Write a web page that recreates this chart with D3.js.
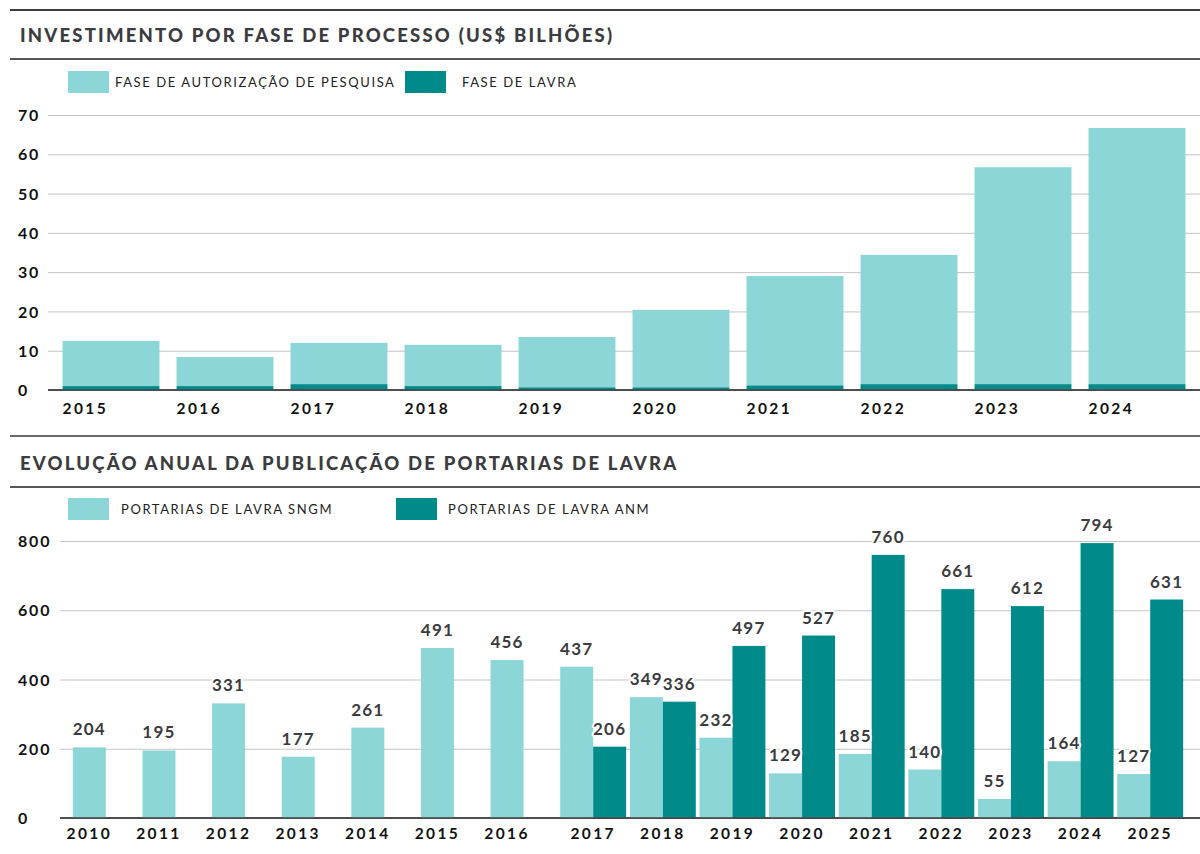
<!DOCTYPE html>
<html lang="pt">
<head>
<meta charset="UTF-8">
<title>Investimento e portarias de lavra</title>
<script src="https://cdn.jsdelivr.net/npm/d3@7"></script>
<style>
  body { margin: 0; background: #fff; }
  text { font-family: Lato, "Open Sans", sans-serif; }
</style>
</head>
<body>
<script>
// --- grafico 1: investimento por fase (US$ bilhoes)
var anosInv = ["2015", "2016", "2017", "2018", "2019", "2020", "2021", "2022", "2023", "2024"];
var lavraInv = [1.0, 1.0, 1.5, 1.0, 0.7, 0.7, 1.2, 1.5, 1.5, 1.5];
var pesquisaInv = [11.5, 7.4, 10.5, 10.5, 12.8, 19.7, 27.8, 32.9, 55.2, 65.2];
var ticksInv = [0, 10, 20, 30, 40, 50, 60, 70];

// --- grafico 2: portarias de lavra
var anosPort = ["2010", "2011", "2012", "2013", "2014", "2015", "2016", "2017",
                "2018", "2019", "2020", "2021", "2022", "2023", "2024", "2025"];
var sngm = [204, 195, 331, 177, 261, 491, 456, 437, 349, 232, 129, 185, 140, 55, 164, 127];
var anm = [null, null, null, null, null, null, null, 206, 336, 497, 527, 760, 661, 612, 794, 631];
var ticksPort = [0, 200, 400, 600, 800];

var claro = "#8cd6d8", escuro = "#008b8a";
var width = 1200, height = 854;

var svg = d3.select("body").append("svg")
    .attr("width", width)
    .attr("height", height);

// linhas de separacao e titulos
function linha(y, cor) {
  svg.append("line").attr("x1", 10).attr("x2", width).attr("y1", y).attr("y2", y)
    .attr("stroke", cor).attr("stroke-width", 2);
}
function titulo(txt, y) {
  svg.append("text").attr("x", 20).attr("y", y).text(txt)
    .attr("font-size", 18.5).attr("font-weight", 900)
    .attr("letter-spacing", 2.2).attr("fill", "#3b3b40");
}
function legenda(itens, y) {
  itens.forEach(function (it) {
    svg.append("rect").attr("x", it.x).attr("y", y).attr("width", 41).attr("height", 22)
      .attr("fill", it.cor);
    svg.append("text").attr("x", it.tx).attr("y", y + 16).text(it.nome)
      .attr("font-size", 13).attr("letter-spacing", 1.6).attr("fill", "#222");
  });
}

linha(10, "#3d3d42");
titulo("INVESTIMENTO POR FASE DE PROCESSO (US$ BILHÕES)", 42);
linha(59, "#55555a");
legenda([
  { x: 68, tx: 115, cor: claro, nome: "FASE DE AUTORIZAÇÃO DE PESQUISA" },
  { x: 405, tx: 462, cor: escuro, nome: "FASE DE LAVRA" }
], 71);

linha(436, "#6a6a6e");
titulo("EVOLUÇÃO ANUAL DA PUBLICAÇÃO DE PORTARIAS DE LAVRA", 470);
linha(487, "#55555a");
legenda([
  { x: 68, tx: 121, cor: claro, nome: "PORTARIAS DE LAVRA SNGM" },
  { x: 396, tx: 448, cor: escuro, nome: "PORTARIAS DE LAVRA ANM" }
], 498);

// eixo y com grade, rotulos alinhados a esquerda
function eixoY(y, ticks, x0) {
  var g = svg.append("g").attr("transform", "translate(" + x0 + ",0)")
    .call(d3.axisLeft(y).tickValues(ticks).tickSize(-(width - x0)).tickPadding(0));
  g.select(".domain").remove();
  g.selectAll(".tick line").attr("stroke", "#c4c4c8").attr("stroke-width", 1);
  g.selectAll(".tick text")
    .attr("x", 18 - x0).attr("text-anchor", "start").attr("dy", "0.35em")
    .attr("font-size", 16).attr("font-weight", 700).attr("letter-spacing", 1.8)
    .attr("fill", "#111").style("font-family", "Lato, sans-serif");
  svg.append("line").attr("x1", x0).attr("x2", width)
    .attr("y1", y(0)).attr("y2", y(0)).attr("stroke", "#444").attr("stroke-width", 1.5);
}

// ---------- grafico 1
var x1 = d3.scaleBand().domain(anosInv).range([54, 1194])
    .paddingInner(0.15).paddingOuter(0.075);
var y1 = d3.scaleLinear().domain([0, 70]).range([390, 115]);

eixoY(y1, ticksInv, 48);

var linhasInv = anosInv.map(function (a, i) {
  return { ano: a, lavra: lavraInv[i], pesquisa: pesquisaInv[i] };
});
var pilha = d3.stack().keys(["lavra", "pesquisa"])(linhasInv);
var cores1 = { lavra: escuro, pesquisa: claro };

svg.append("g").selectAll("g").data(pilha).join("g")
    .attr("fill", function (s) { return cores1[s.key]; })
  .selectAll("rect").data(function (s) { return s; }).join("rect")
    .attr("x", function (d) { return x1(d.data.ano); })
    .attr("y", function (d) { return y1(d[1]); })
    .attr("width", x1.bandwidth())
    .attr("height", function (d) { return y1(d[0]) - y1(d[1]); });

// redesenha a base por cima
svg.append("line").attr("x1", 48).attr("x2", width).attr("y1", y1(0)).attr("y2", y1(0))
  .attr("stroke", "#444").attr("stroke-width", 1.5);

svg.append("g").selectAll("text").data(anosInv).join("text")
    .attr("x", function (d) { return x1(d); })
    .attr("y", 414)
    .text(function (d) { return d; })
    .attr("font-size", 15.5).attr("font-weight", 700).attr("letter-spacing", 2.4).attr("fill", "#111");

// ---------- grafico 2
var x2 = d3.scaleBand().domain(anosPort).range([71, 1185])
    .paddingInner(0.053).paddingOuter(0.0265);
var serie = d3.scaleBand().domain(["sngm", "anm"]).range([0, x2.bandwidth()]);
var y2 = d3.scaleLinear().domain([0, 800]).range([818, 541]);

eixoY(y2, ticksPort, 60);

var barras = [];
anosPort.forEach(function (a, i) {
  barras.push({ ano: a, s: "sngm", v: sngm[i] });
  if (anm[i] != null) barras.push({ ano: a, s: "anm", v: anm[i] });
});

svg.append("g").selectAll("rect").data(barras).join("rect")
    .attr("x", function (d) { return x2(d.ano) + serie(d.s); })
    .attr("y", function (d) { return y2(d.v); })
    .attr("width", serie.bandwidth())
    .attr("height", function (d) { return y2(0) - y2(d.v); })
    .attr("fill", function (d) { return d.s === "sngm" ? claro : escuro; });

svg.append("line").attr("x1", 60).attr("x2", width).attr("y1", y2(0)).attr("y2", y2(0))
  .attr("stroke", "#444").attr("stroke-width", 1.5);

svg.append("g").selectAll("text").data(barras).join("text")
    .attr("x", function (d) { return x2(d.ano) + serie(d.s) + serie.bandwidth() / 2; })
    .attr("y", function (d) { return y2(d.v) - 12; })
    .attr("text-anchor", "middle")
    .text(function (d) { return d.v; })
    .attr("font-size", 17).attr("font-weight", 700).attr("letter-spacing", 1.2)
    .attr("fill", "#3b3b40")
    .attr("stroke", "#fff").attr("stroke-width", 4).attr("stroke-linejoin", "round")
    .style("paint-order", "stroke");

// rotulo do ano: centro das barras existentes
svg.append("g").selectAll("text").data(anosPort).join("text")
    .attr("x", function (d, i) {
      var w = anm[i] != null ? x2.bandwidth() : serie.bandwidth();
      return x2(d) + w / 2;
    })
    .attr("y", 839)
    .attr("text-anchor", "middle")
    .text(function (d) { return d; })
    .attr("font-size", 15.5).attr("font-weight", 700).attr("letter-spacing", 2.4).attr("fill", "#111");
</script>
</body>
</html>
